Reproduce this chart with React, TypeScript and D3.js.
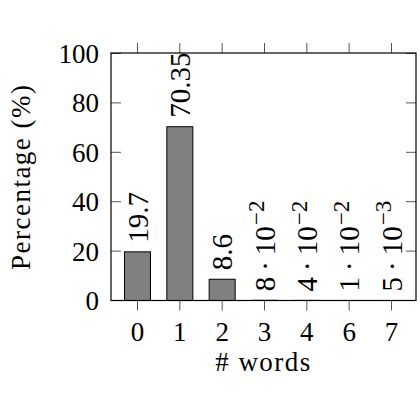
import React, { useEffect, useRef } from "react";
import * as d3 from "d3";

// data
const categories = ["0", "1", "2", "3", "4", "6", "7"];
const percentages = [19.7, 70.35, 8.6, 0.08, 0.04, 0.01, 0.005];
const labelBase = ["19.7", "70.35", "8.6", "8", "4", "1", "5"];
const labelExp = ["", "", "", "\u22122", "\u22122", "\u22122", "\u22123"];
const yTicks = [0, 20, 40, 60, 80, 100];

const W = 420;
const H = 420;
const FONT = "Liberation Serif";

export default function App() {
  const svgRef = useRef<SVGSVGElement>(null);

  useEffect(() => {
    document.body.style.margin = "0";
    const svg = d3.select(svgRef.current);
    svg.selectAll("*").remove();

    const left = 111, right = 416, top = 53, bottom = 300.5;

    const x = d3.scalePoint().domain(categories).range([137.5, 391.5]);
    const y = d3.scaleLinear().domain([0, 100]).range([bottom, top + 0.5]);
    const barW = 26;
    const tickLen = 10;

    // bars
    svg.append("g")
      .selectAll("rect")
      .data(percentages)
      .join("rect")
      .attr("x", (d, i) => x(categories[i])! - barW / 2)
      .attr("y", d => y(d))
      .attr("width", barW)
      .attr("height", d => bottom - y(d))
      .attr("fill", "#808080")
      .attr("stroke", "#000")
      .attr("stroke-width", 1);

    // ticks
    const ticks = svg.append("g").attr("stroke", "#555").attr("stroke-width", 1);
    yTicks.forEach(t => {
      ticks.append("line").attr("x1", left).attr("x2", left + tickLen).attr("y1", y(t)).attr("y2", y(t));
      ticks.append("line").attr("x1", right - tickLen).attr("x2", right).attr("y1", y(t)).attr("y2", y(t));
    });
    categories.forEach(c => {
      ticks.append("line").attr("x1", x(c)!).attr("x2", x(c)!).attr("y1", bottom).attr("y2", bottom + tickLen);
      ticks.append("line").attr("x1", x(c)!).attr("x2", x(c)!).attr("y1", top - tickLen).attr("y2", top);
    });

    // frame
    svg.append("rect")
      .attr("x", left).attr("y", top)
      .attr("width", right - left).attr("height", bottom - top)
      .attr("fill", "none").attr("stroke", "#000").attr("stroke-width", 1.2);

    const txt = svg.append("g")
      .attr("font-family", FONT)
      .attr("font-size", 27)
      .attr("fill", "#000");

    // tick labels
    txt.append("g")
      .selectAll("text")
      .data(yTicks)
      .join("text")
      .attr("x", 99)
      .attr("y", d => y(d))
      .attr("dy", "0.35em")
      .attr("text-anchor", "end")
      .text(d => d);

    txt.append("g")
      .selectAll("text")
      .data(categories)
      .join("text")
      .attr("x", d => x(d)!)
      .attr("y", 341)
      .attr("text-anchor", "middle")
      .text(d => d);

    // value labels, rotated
    const lab = txt.append("g")
      .attr("font-size", 29)
      .selectAll("text")
      .data(percentages)
      .join("text")
      .attr("transform", (d, i) => `translate(${x(categories[i])},${y(d) - 9}) rotate(-90)`)
      .attr("dy", "0.35em")
      .attr("text-anchor", "start");
    lab.each(function (d, i) {
      const t = d3.select(this);
      t.append("tspan").text(labelBase[i]);
      if (labelExp[i]) {
        t.append("tspan").attr("dx", 6).text("\u00b7");
        t.append("tspan").attr("dx", 6).text("10");
        t.append("tspan").attr("font-size", "0.8em").attr("dy", "-0.45em").attr("dx", 1).text(labelExp[i]);
      }
    });

    // axis titles
    txt.append("text")
      .attr("x", (left + right) / 2)
      .attr("y", 371)
      .attr("text-anchor", "middle")
      .attr("letter-spacing", 1.5)
      .text("# words");

    txt.append("text")
      .attr("transform", `translate(30,${(top + bottom) / 2}) rotate(-90)`)
      .attr("text-anchor", "middle")
      .attr("letter-spacing", 1.5)
      .text("Percentage (%)");
  }, []);

  return (
    <svg
      ref={svgRef}
      width={W}
      height={H}
      style={{ display: "block", background: "#fff" }}
    />
  );
}
